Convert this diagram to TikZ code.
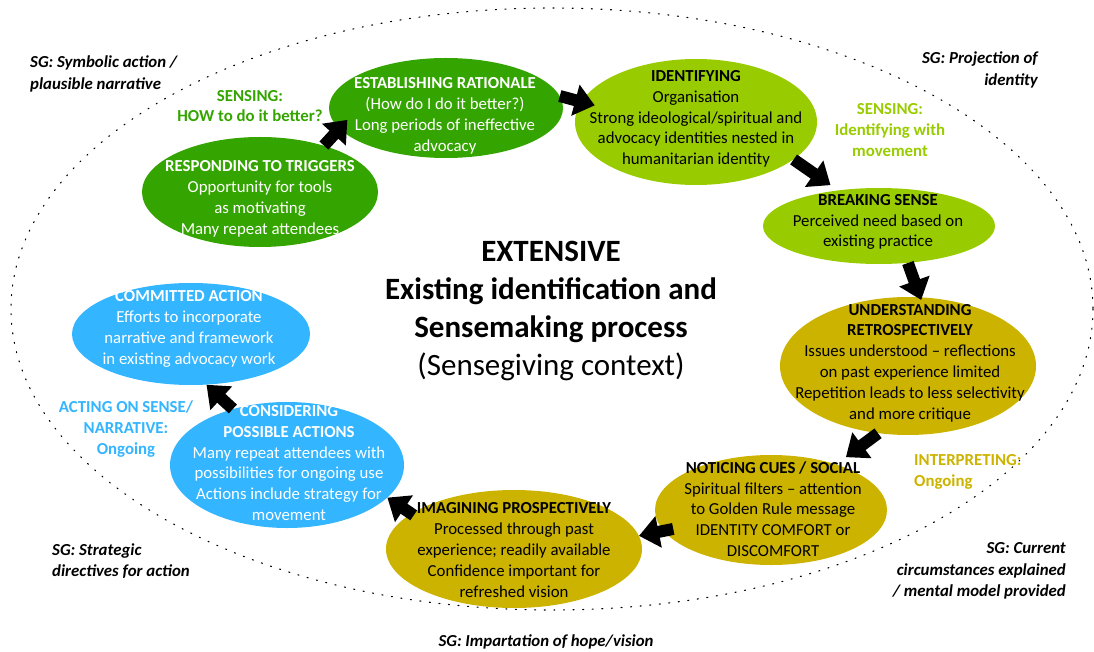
\documentclass[tikz,border=0pt]{standalone}
\usepackage{fontspec}
\setmainfont{Carlito}
\usetikzlibrary{shapes.geometric,arrows.meta}
\definecolor{cdg}{HTML}{34A500}
\definecolor{clg}{HTML}{99CC00}
\definecolor{cgold}{HTML}{CCB300}
\definecolor{cblue}{HTML}{33B5FF}
\tikzset{
  stage/.style={ellipse, draw=none, inner sep=0pt},
  body/.style={align=center, inner sep=0pt, font=\fontsize{16.8}{20.8}\selectfont},
  side/.style={align=center, inner sep=0pt, font=\fontsize{16.8}{20.8}\selectfont\bfseries},
  sg/.style={inner sep=0pt, font=\fontsize{16.8}{21.5}\selectfont\bfseries\itshape},
  bigarrow/.style={line width=12pt, -{Triangle[length=20pt,width=31pt]}},
}
\begin{document}
\begin{tikzpicture}[x=1pt,y=-1pt]
\useasboundingbox (0,0) rectangle (1094,652);
% outer dotted ellipse
\draw[line width=1.1pt, dash pattern=on 1.1pt off 8.5pt, line cap=round] (552,309) ellipse [x radius=541, y radius=301];

% stage ellipses
\node[stage, fill=cdg, minimum width=234, minimum height=100] (est) at (446,108) {};
\node[stage, fill=cdg, minimum width=236, minimum height=110] (trig) at (260,192) {};
\node[stage, fill=clg, minimum width=242, minimum height=126] (ident) at (696,122) {};
\node[stage, fill=clg, minimum width=232, minimum height=76] (brk) at (879,226) {};
\node[stage, fill=cgold, minimum width=256, minimum height=138] (und) at (908,366) {};
\node[stage, fill=cgold, minimum width=232, minimum height=110] (notc) at (771,510) {};
\node[stage, fill=cgold, minimum width=256, minimum height=118] (img) at (514,549) {};
\node[stage, fill=cblue, minimum width=234, minimum height=126] (cons) at (287,465) {};
\node[stage, fill=cblue, minimum width=238, minimum height=102] (com) at (191,334) {};

% arrows
\draw[bigarrow, shorten >=-12pt] (trig.36) -- (est.191);
\draw[bigarrow, shorten >=-14pt] (est.6) -- (ident.170);
\draw[bigarrow, shorten >=9pt] (ident.-21) -- (brk.139);
\draw[bigarrow, shorten >=-3pt] (brk.-52) -- (und.80);
\draw[bigarrow, shorten >=12pt] (und.246) -- (notc.35);
\draw[bigarrow, shorten <=-10pt] (notc.191) -- (img.6);
\draw[bigarrow, shorten <=-3pt] (img.161) -- (cons.-18);
\draw[bigarrow] (cons.134) -- (com.-73);

% stage texts
\node[body, text=white] (estT) at (445,116) {\textbf{ESTABLISHING RATIONALE}\\(How do I do it better?)\\Long periods of ineffective\\advocacy};
\node[body, text=white] (trigT) at (260,199) {\textbf{RESPONDING TO TRIGGERS}\\Opportunity for tools\\as motivating\\Many repeat attendees};
\node[body, text=black] (identT) at (696,119) {\textbf{IDENTIFYING}\\Organisation\\Strong ideological/spiritual and\\advocacy identities nested in\\humanitarian identity};
\node[body, text=black] (brkT) at (878,222) {\textbf{BREAKING SENSE}\\Perceived need based on\\existing practice};
\node[body, text=black] (undT) at (910,363) {\textbf{UNDERSTANDING}\\\textbf{RETROSPECTIVELY}\\Issues understood -- reflections\\on past experience limited\\Repetition leads to less selectivity\\and more critique};
\node[body, text=black] (notT) at (773,509) {\textbf{NOTICING CUES / SOCIAL}\\Spiritual filters -- attention\\to Golden Rule message\\IDENTITY COMFORT or\\DISCOMFORT};
\node[body, text=black] (imgT) at (514,550) {\textbf{IMAGINING PROSPECTIVELY}\\Processed through past\\experience; readily available\\Confidence important for\\refreshed vision};
\node[body, text=white] (consT) at (289,463) {\textbf{CONSIDERING}\\\textbf{POSSIBLE ACTIONS}\\Many repeat attendees with\\possibilities for ongoing use\\Actions include strategy for\\movement};
\node[body, text=white] (comT) at (189,329) {\textbf{COMMITTED ACTION}\\Efforts to incorporate\\narrative and framework\\in existing advocacy work};

% centre title
\node[align=center, inner sep=0pt, font=\fontsize{31}{38.2}\selectfont] (title) at (551,311)
  {\textbf{EXTENSIVE}\\\textbf{Existing identification and}\\\textbf{Sensemaking process}\\(Sensegiving context)};

% phase labels
\node[side, text=cdg] (l1) at (250,106) {SENSING:\\HOW to do it better?};
\node[side, text=clg] (l2) at (890,130) {SENSING:\\Identifying with\\movement};
\node[side, text=cgold, align=left, anchor=west] (l3) at (914,472) {INTERPRETING:\\Ongoing};
\node[side, text=cblue] (l4) at (126,429) {ACTING ON SENSE/\\NARRATIVE:\\Ongoing};

% SG labels
\node[sg, align=left, anchor=west] (sg1) at (30,74) {SG: Symbolic action /\\plausible narrative};
\node[sg, align=right, anchor=east] (sg2) at (1038,70) {SG: Projection of\\identity};
\node[sg, align=left, anchor=west] (sg3) at (52,561) {SG: Strategic\\directives for action};
\node[sg, align=right, anchor=east] (sg4) at (1066,571) {SG: Current\\circumstances explained\\/ mental model provided};
\node[sg] (sg5) at (546,642) {SG: Impartation of hope/vision};
\end{tikzpicture}
\end{document}
